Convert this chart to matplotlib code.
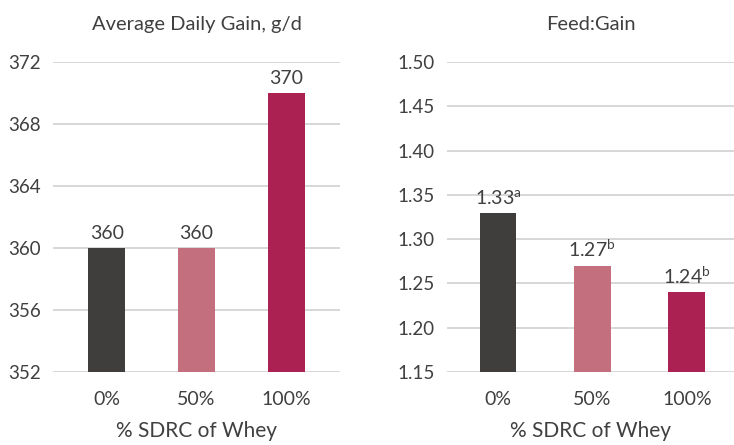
import matplotlib.pyplot as plt

plt.rcParams['font.family'] = ['Lato', 'DejaVu Sans']
plt.rcParams['mathtext.fontset'] = 'custom'
plt.rcParams['mathtext.rm'] = 'Lato'
plt.rcParams['mathtext.it'] = 'Lato'

# treatment groups
levels = ['0%', '50%', '100%']
colors = ['#403e3c', '#c46f7e', '#ab2152']

# average daily gain, g/d
adg = [360, 360, 370]
adg_ticks = [352, 356, 360, 364, 368, 372]

# feed:gain with significance letters
fg = [1.33, 1.27, 1.24]
fg_letters = ['a', 'b', 'b']
fg_ticks = [1.15, 1.20, 1.25, 1.30, 1.35, 1.40, 1.45, 1.50]

TXT = '#404040'
GRID = '#d4d4d4'

fig = plt.figure(figsize=(7.34, 4.45), dpi=100)
ax1 = fig.add_axes([53/734, 1-372/445, 287/734, 310/445])
ax2 = fig.add_axes([447/734, 1-372/445, 287/734, 310/445])


def style_axes(ax, ticks, fmt):
    ax.set_ylim(ticks[0], ticks[-1])
    ax.set_yticks(ticks)
    ax.set_yticklabels([fmt.format(t) for t in ticks])
    ax.yaxis.grid(True, color=GRID, linewidth=1.3)
    ax.set_axisbelow(True)
    for s in ax.spines.values():
        s.set_visible(False)
    ax.tick_params(length=0, labelsize=13.5, colors=TXT)
    ax.tick_params(axis='y', pad=9)
    ax.tick_params(axis='x', labelsize=14, pad=14)
    ax.set_xticks(range(len(levels)))
    ax.set_xticklabels(levels)
    ax.set_xlabel('% SDRC of Whey', fontsize=15, color=TXT, labelpad=9)


# left: ADG
ax1.bar(range(len(levels)), adg, width=0.41, color=colors, zorder=2)
style_axes(ax1, adg_ticks, '{:.0f}')
ax1.set_xlim(-0.6, 2.6)
ax1.set_title('Average Daily Gain, g/d', fontsize=14.5, color=TXT, pad=23)
for i, v in enumerate(adg):
    ax1.annotate(f'{v}', (i, v), xytext=(0, 4), textcoords='offset points',
                 ha='center', va='bottom', fontsize=14, color=TXT)

# right: Feed:Gain
ax2.bar(range(len(levels)), fg, width=0.39, color=colors, zorder=2)
style_axes(ax2, fg_ticks, '{:.2f}')
ax2.set_xlim(-0.54, 2.5)
ax2.set_title('Feed:Gain', fontsize=14.5, color=TXT, pad=23)
for i, (v, l) in enumerate(zip(fg, fg_letters)):
    ax2.annotate(f'{v:.2f}' + r'$^{\mathrm{' + l + '}}$', (i, v), xytext=(0, 4),
                 textcoords='offset points', ha='center', va='bottom',
                 fontsize=14, color=TXT)

fig.savefig('out.png', dpi=100)
